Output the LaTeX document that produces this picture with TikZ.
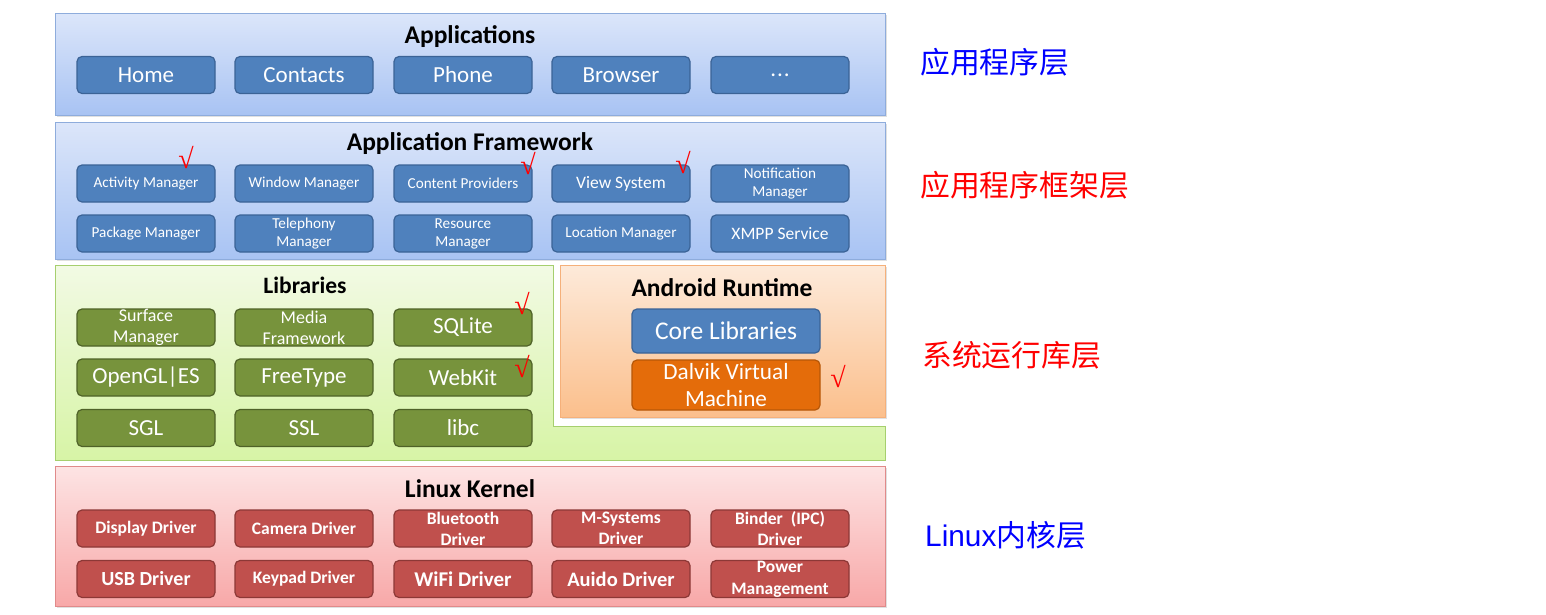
\documentclass[tikz,border=0pt]{standalone}
\usepackage{fontspec}
\setmainfont{Carlito}
\newfontfamily\cjk{Noto Sans CJK SC}
\newfontfamily\arialf{Liberation Sans}
\newfontfamily\tickf{Liberation Serif}
\definecolor{appbox}{HTML}{4F81BD}
\definecolor{appboxd}{HTML}{3B6396}
\definecolor{libbox}{HTML}{77933C}
\definecolor{libboxd}{HTML}{4F6228}
\definecolor{kerbox}{HTML}{C0504D}
\definecolor{kerboxd}{HTML}{8C3836}
\definecolor{dalbox}{HTML}{E46C0A}
\definecolor{dalboxd}{HTML}{B65708}
\definecolor{bluetop}{HTML}{DCE6FA}
\definecolor{bluebot}{HTML}{A8C3F3}
\definecolor{blueedge}{HTML}{8EACDC}
\definecolor{greentop}{HTML}{F2FAE4}
\definecolor{greenbot}{HTML}{D7F4A6}
\definecolor{greenedge}{HTML}{A6CF6E}
\definecolor{orangetop}{HTML}{FDEADA}
\definecolor{orangebot}{HTML}{FBBF8C}
\definecolor{orangeedge}{HTML}{F5B07A}
\definecolor{redtop}{HTML}{FDE4E4}
\definecolor{redbot}{HTML}{F8A8A8}
\definecolor{rededge}{HTML}{E08A8A}
\definecolor{lblblue}{HTML}{0000FF}
\definecolor{lblred}{HTML}{FF0000}
\tikzset{
  x=1pt, y=-1pt,
  fs/.style={font=\fontsize{#1}{#1}\selectfont},
  bx/.style={rounded corners=5pt, minimum width=138pt, minimum height=37pt,
    inner sep=0pt, align=center, text=white, line width=1.2pt},
  bluebox/.style={bx, fill=appbox, draw=appboxd},
  greenbox/.style={bx, fill=libbox, draw=libboxd},
  redbox/.style={bx, fill=kerbox, draw=kerboxd},
  layertitle/.style={font=\bfseries\fontsize{25.5}{27}\selectfont, text=black, inner sep=0pt},
  tick/.style={text=red, inner sep=0pt, font=\tickf\fontsize{28}{28}\selectfont},
  sidelabel/.style={anchor=west, inner sep=0pt, font=\cjk\fontsize{29.8}{32}\selectfont},
  kone/.style={redbox, font=\bfseries\fontsize{17.5}{21}\selectfont},
  ktwo/.style={redbox, font=\bfseries\fontsize{20.5}{21}\selectfont},
  fwsmall/.style={bluebox, font=\fontsize{15.2}{18}\selectfont},
  fwbig/.style={bluebox, fs=17.5},
  libtwo/.style={greenbox, font=\fontsize{18}{21}\selectfont},
  libone/.style={greenbox, fs=23},
  appb/.style={bluebox, fs=23},
}
\begin{document}
\begin{tikzpicture}
\useasboundingbox (0,0) rectangle (1546,614);
% layers shadows
\fill[black!12] (57,15) rectangle (887,117);
\fill[black!12] (57,124) rectangle (887,261);
\fill[black!12] (57,468) rectangle (887,608);
\fill[black!12] (562,267) rectangle (887,419);
% layers
\shade[top color=bluetop, bottom color=bluebot, draw=blueedge, line width=1pt] (55,13) rectangle (885,115);
\shade[top color=bluetop, bottom color=bluebot, draw=blueedge, line width=1pt] (55,122) rectangle (885,259);
\shade[top color=greentop, bottom color=greenbot, draw=greenedge, line width=1pt]
  (55,265) -- (553,265) -- (553,426) -- (885,426) -- (885,460) -- (55,460) -- cycle;
\shade[top color=orangetop, bottom color=orangebot, draw=orangeedge, line width=1pt] (560,265) rectangle (885,417);
\shade[top color=redtop, bottom color=redbot, draw=rededge, line width=1pt] (55,466) rectangle (885,606);

% titles
\node[layertitle] (tapp) at (470,36.5) {Applications};
\node[layertitle] (tfw) at (470,143.5) {Application Framework};
\node[layertitle, font=\bfseries\fontsize{23.5}{25}\selectfont] (tlib) at (305,285) {Libraries};
\node[layertitle] (trt) at (722,288) {Android Runtime};
\node[layertitle] (tker) at (470,489) {Linux Kernel};

% Applications
\node[appb] (home) at (146,75) {Home};
\node[appb] (contacts) at (304,75) {Contacts};
\node[appb] (phone) at (463,75) {Phone};
\node[appb] (browser) at (621,75) {Browser};
\node[appb] (dots) at (780,75) {.\kern1pt.\kern1pt.};

% Framework
\node[fwsmall] (am) at (146,183.5) {Activity Manager};
\node[fwsmall] (wm) at (304,183.5) {Window Manager};
\node[fwsmall] (cp) at (463,183.5) {Content Providers};
\node[fwbig] (vs) at (621,183.5) {View System};
\node[fwsmall] (nm) at (780,183.5) {Notification\\Manager};
\node[fwsmall] (pm) at (146,233.5) {Package Manager};
\node[fwsmall] (tm) at (304,233.5) {Telephony\\Manager};
\node[fwsmall] (rm) at (463,233.5) {Resource\\Manager};
\node[fwsmall] (lm) at (621,233.5) {Location Manager};
\node[fwbig] (xmpp) at (780,233.5) {XMPP Service};

% Libraries
\node[libtwo] (sm) at (146,327.5) {Surface\\Manager};
\node[libtwo] (mf) at (304,327.5) {Media\\Framework};
\node[libone] (sqlite) at (463,327.5) {SQLite};
\node[libone] (opengl) at (146,377.5) {OpenGL|ES};
\node[libone] (ft) at (304,377.5) {FreeType};
\node[libone] (webkit) at (463,377.5) {WebKit};
\node[libone] (sgl) at (146,428) {SGL};
\node[libone] (ssl) at (304,428) {SSL};
\node[libone] (libc) at (463,428) {libc};

% Runtime
\node[bluebox, minimum width=188pt, minimum height=44pt, fs=25.5] (core) at (726,331) {Core Libraries};
\node[bx, fill=dalbox, draw=dalboxd, minimum width=188pt, minimum height=50pt, font=\fontsize{23.2}{27}\selectfont] (dalvik) at (726,385) {Dalvik Virtual\\Machine};

% Kernel
\node[kone] (disp) at (146,528.5) {Display Driver};
\node[kone] (cam) at (304,528.5) {Camera Driver};
\node[kone] (bt) at (463,528.5) {Bluetooth\\Driver};
\node[kone] (msys) at (621,528.5) {M-Systems\\Driver};
\node[kone] (binder) at (780,528.5) {Binder\ \ (IPC)\\Driver};
\node[ktwo, font=\bfseries\fontsize{20}{21}\selectfont] (usb) at (146,579) {USB Driver};
\node[kone] (key) at (304,579) {Keypad Driver};
\node[ktwo, font=\bfseries\fontsize{21}{21}\selectfont] (wifi) at (463,579) {WiFi Driver};
\node[ktwo] (audio) at (621,579) {Auido Driver};
\node[kone, font=\bfseries\fontsize{17.5}{22}\selectfont] (power) at (780,579) {Power\\Management};

% ticks
\node[tick] (t1) at (186,158) {√};
\node[tick] (t2) at (528,164) {√};
\node[tick] (t3) at (683,163) {√};
\node[tick] (t4) at (522,304) {√};
\node[tick] (t5) at (522,367) {√};
\node[tick] (t6) at (838,377) {√};

% side labels
\node[sidelabel, text=lblblue] (l1) at (920,62) {应用程序层};
\node[sidelabel, text=lblred] (l2) at (920,185) {应用程序框架层};
\node[sidelabel, text=lblred] (l3) at (922,355) {系统运行库层};
\node[sidelabel, text=lblblue] (l4) at (925,535) {{\arialf Linux}内核层};
\end{tikzpicture}
\end{document}
